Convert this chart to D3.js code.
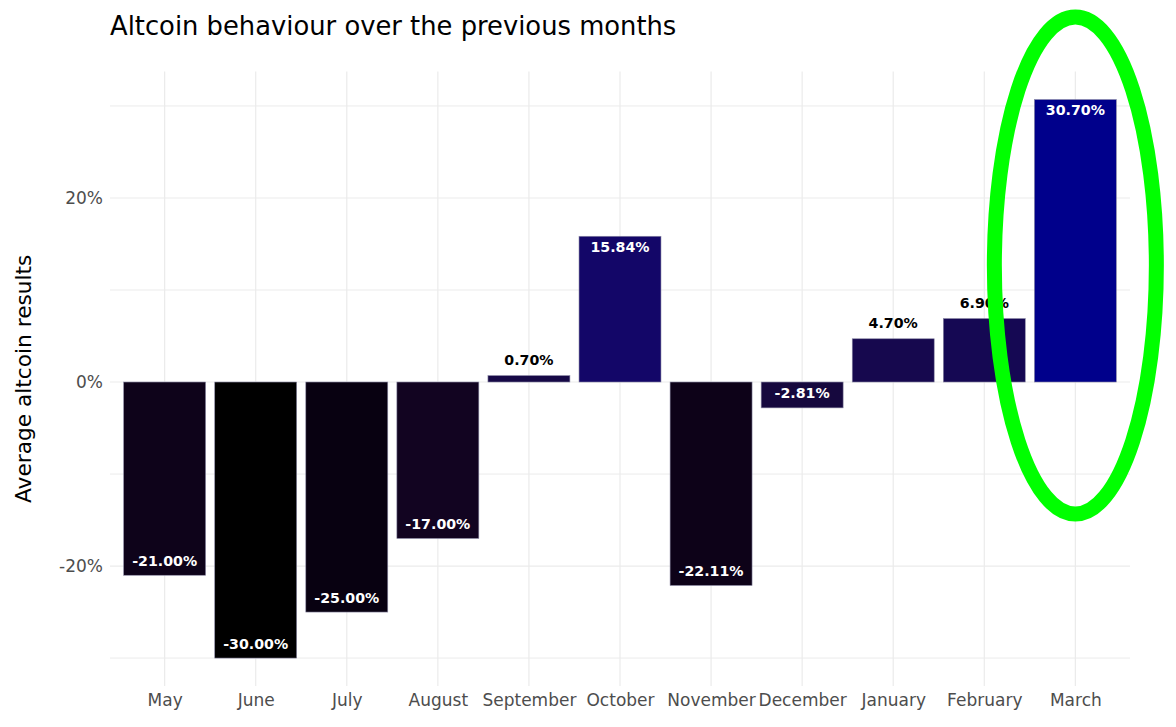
<!DOCTYPE html>
<html>
<head>
<meta charset="utf-8">
<script src="https://cdn.jsdelivr.net/npm/d3@7"></script>
<style>
  html, body { margin: 0; padding: 0; background: #fff; }
  svg { display: block; font-family: "DejaVu Sans", sans-serif; }
</style>
</head>
<body>
<svg id="chart" width="1176" height="727"></svg>
<script>
const months = ["May","June","July","August","September","October","November","December","January","February","March"];
const values = [-21.00, -30.00, -25.00, -17.00, 0.70, 15.84, -22.11, -2.81, 4.70, 6.90, 30.70];
const majorTicks = [-20, 0, 20];
const minorTicks = [-30, -10, 10, 30];
const highlighted = "March";
const title = "Altcoin behaviour over the previous months";
const yTitle = "Average altcoin results";

const svg = d3.select("#chart");
const panel = { left: 110, right: 1130, top: 71.6, bottom: 686 };

const vmin = d3.min(values), vmax = d3.max(values);
const pad = (vmax - vmin) * 0.05;
const y = d3.scaleLinear().domain([vmin - pad, vmax + pad]).range([panel.bottom, panel.top]);
const x = d3.scalePoint().domain(months).range([panel.left, panel.right]).padding(0.6);
const barW = x.step() * 0.9;
const color = d3.scaleLinear().domain([vmin, vmax]).range(["black", "darkblue"]).interpolate(d3.interpolateLab);

const grid = svg.append("g");
grid.selectAll(".minor").data(minorTicks).join("line")
  .attr("x1", panel.left).attr("x2", panel.right)
  .attr("y1", d => y(d)).attr("y2", d => y(d))
  .attr("stroke", "#ebebeb").attr("stroke-width", 1);
grid.selectAll(".major").data(majorTicks).join("line")
  .attr("x1", panel.left).attr("x2", panel.right)
  .attr("y1", d => y(d)).attr("y2", d => y(d))
  .attr("stroke", "#ebebeb").attr("stroke-width", 1.2);
grid.selectAll(".vert").data(months).join("line")
  .attr("x1", d => x(d)).attr("x2", d => x(d))
  .attr("y1", panel.top).attr("y2", panel.bottom)
  .attr("stroke", "#ebebeb").attr("stroke-width", 1.2);

const data = months.map((m, i) => ({ m, v: values[i] }));

svg.append("g").selectAll("rect").data(data).join("rect")
  .attr("x", d => x(d.m) - barW / 2)
  .attr("width", barW)
  .attr("y", d => y(Math.max(0, d.v)))
  .attr("height", d => Math.abs(y(d.v) - y(0)))
  .attr("fill", d => color(d.v))
  .attr("stroke", "#8c8aa6").attr("stroke-width", 0.6);

svg.append("g").selectAll("text").data(data).join("text")
  .attr("x", d => x(d.m))
  .attr("y", d => {
    if (d.v < 0) return y(d.v) - 14.5;
    if (d.v >= 10) return y(d.v) + 11;
    return y(d.v) - 15.5;
  })
  .attr("dy", "0.35em")
  .attr("text-anchor", "middle")
  .attr("font-size", 14.2).attr("font-weight", "bold")
  .attr("fill", d => (d.v > 0 && d.v < 10) ? "#000" : "#fff")
  .text(d => d.v.toFixed(2) + "%");

// Axes
const yAxis = d3.axisLeft(y).tickValues(majorTicks).tickSize(0).tickPadding(7).tickFormat(d => d + "%");
const gy = svg.append("g").attr("transform", `translate(${panel.left},0)`).call(yAxis);
gy.select(".domain").remove();
gy.selectAll("text").attr("font-size", 17).attr("fill", "#4d4d4d").attr("font-family", "DejaVu Sans");

const xAxis = d3.axisBottom(x).tickSize(0).tickPadding(8);
const gx = svg.append("g").attr("transform", `translate(0,${panel.bottom})`).call(xAxis);
gx.select(".domain").remove();
gx.selectAll("text").attr("font-size", 17).attr("fill", "#4d4d4d").attr("font-family", "DejaVu Sans");

svg.append("text").attr("x", 110).attr("y", 35)
  .attr("font-size", 25.8).attr("fill", "#000").text(title);

svg.append("text")
  .attr("transform", `translate(31,${(panel.top + panel.bottom) / 2}) rotate(-90)`)
  .attr("text-anchor", "middle").attr("font-size", 21.7).attr("fill", "#000")
  .text(yTitle);

// Highlight ellipse around the highlighted month
svg.append("ellipse")
  .attr("cx", x(highlighted)).attr("cy", 265.5)
  .attr("rx", 81).attr("ry", 248.5)
  .attr("fill", "none").attr("stroke", "#00ff00").attr("stroke-width", 15);
</script>
</body>
</html>
